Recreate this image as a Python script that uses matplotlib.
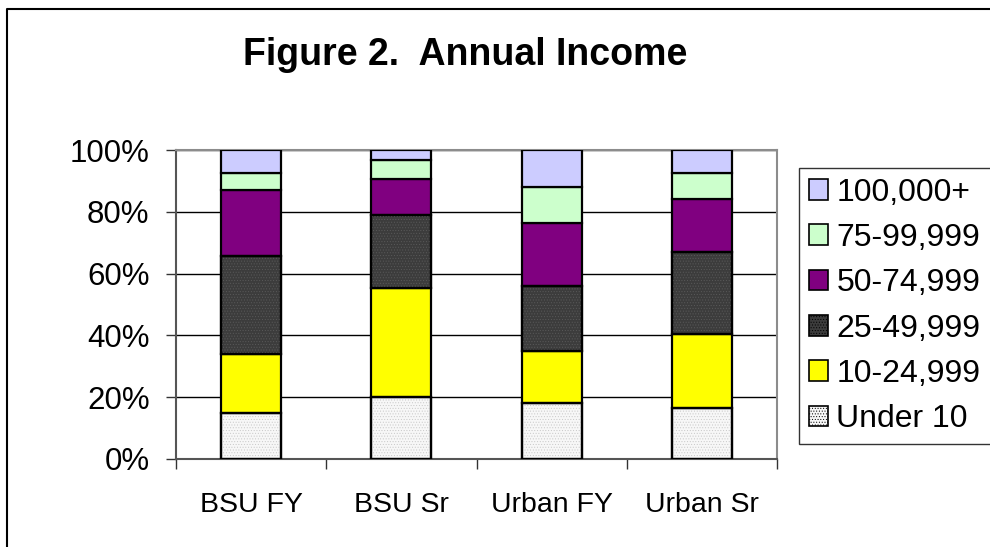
import numpy as np
import matplotlib.pyplot as plt
from matplotlib.lines import Line2D
from matplotlib.patches import Patch
from matplotlib.ticker import PercentFormatter

plt.rcParams["font.family"] = ["Liberation Sans", "DejaVu Sans"]
plt.rcParams["hatch.linewidth"] = 0.4

groups = ["BSU FY", "BSU Sr", "Urban FY", "Urban Sr"]
brackets = ["Under 10", "10-24,999", "25-49,999", "50-74,999", "75-99,999", "100,000+"]

# percent share of each income bracket, per group
under_10 = [15.0, 20.0, 18.1, 16.5]
inc_10_24 = [19.0, 35.4, 16.7, 23.8]
inc_25_49 = [31.7, 23.5, 21.1, 26.7]
inc_50_74 = [21.5, 11.7, 20.6, 17.3]
inc_75_99 = [5.3, 6.2, 11.6, 8.1]
inc_100k = [7.5, 3.2, 11.9, 7.6]

series = [under_10, inc_10_24, inc_25_49, inc_50_74, inc_75_99, inc_100k]
colors = ["#f7f7f7", "#ffff00", "#3c3c3c", "#800080", "#ccffcc", "#ccccff"]
hatches = ["......", None, "......", None, None, None]
hatch_cols = ["#c8c8c8", None, "#5a5a5a", None, None, None]

fig = plt.figure(figsize=(9.9, 5.47), dpi=100)
ax = fig.add_axes([176 / 990, 1 - 459 / 547, (777 - 176) / 990, (459 - 150) / 547])

# outer chart-area border (only left and top edges are inside the picture)
fig.add_artist(Line2D([7 / 990, 7 / 990, 1.01], [-0.01, 1 - 9 / 547, 1 - 9 / 547],
                      transform=fig.transFigure, color="black", linewidth=1.5))

x = np.arange(len(groups))
bottom = np.zeros(len(groups))
handles = []
for vals, lab, col, h, hc in zip(series, brackets, colors, hatches, hatch_cols):
    vals = np.array(vals)
    ax.bar(x, vals, width=0.4, bottom=bottom, color=col, edgecolor="black",
           linewidth=1.6, zorder=3)
    if h:
        ax.bar(x, vals, width=0.4, bottom=bottom, color="none", edgecolor=hc,
               hatch=h, linewidth=0, zorder=3.5)
        ax.bar(x, vals, width=0.4, bottom=bottom, color="none",
               edgecolor="black", linewidth=1.6, zorder=4)
    bottom += vals
    handles.append(Patch(facecolor=col, edgecolor="black", linewidth=1.2,
                         hatch=h, label=lab))

ax.set_xlim(-0.5, len(groups) - 0.5)
ax.set_ylim(0, 100)
ax.set_yticks(np.arange(0, 101, 20))
ax.yaxis.set_major_formatter(PercentFormatter(decimals=0))
ax.yaxis.grid(True, color="black", linewidth=1.0, zorder=1)
ax.set_axisbelow(True)

ax.set_xticks(np.arange(-0.5, len(groups), 1.0), minor=False)
ax.set_xticklabels([])
ax.set_xticks(x, minor=True)
ax.set_xticklabels(groups, minor=True)
ax.tick_params(axis="x", which="major", length=7, width=1, color="#333333",
               direction="out")
ax.tick_params(axis="x", which="minor", length=0, pad=24, labelsize=20.5)
ax.tick_params(axis="y", length=7, width=1, color="#333333", pad=12,
               labelsize=22.5, direction="out")

for s in ["top", "right"]:
    ax.spines[s].set_color("#8c8c8c")
    ax.spines[s].set_linewidth(1.5)
for s in ["left", "bottom"]:
    ax.spines[s].set_color("#555555")
    ax.spines[s].set_linewidth(1.5)

fig.text(465 / 990, 1 - 55 / 547, "Figure 2.  Annual Income", ha="center",
         va="center", fontsize=27, fontweight="bold")

leg = fig.legend(handles=handles[::-1], loc="upper left",
                 bbox_to_anchor=(799 / 990, 1 - 168 / 547, 1.05 - 799 / 990, 0),
                 mode="expand", fontsize=23, frameon=True, fancybox=False,
                 edgecolor="black", handlelength=0.62, handleheight=0.62,
                 handletextpad=0.25, labelspacing=0.48, borderpad=0.3,
                 borderaxespad=0.0)
leg.get_frame().set_linewidth(1.0)

fig.savefig("out.png", dpi=100)
